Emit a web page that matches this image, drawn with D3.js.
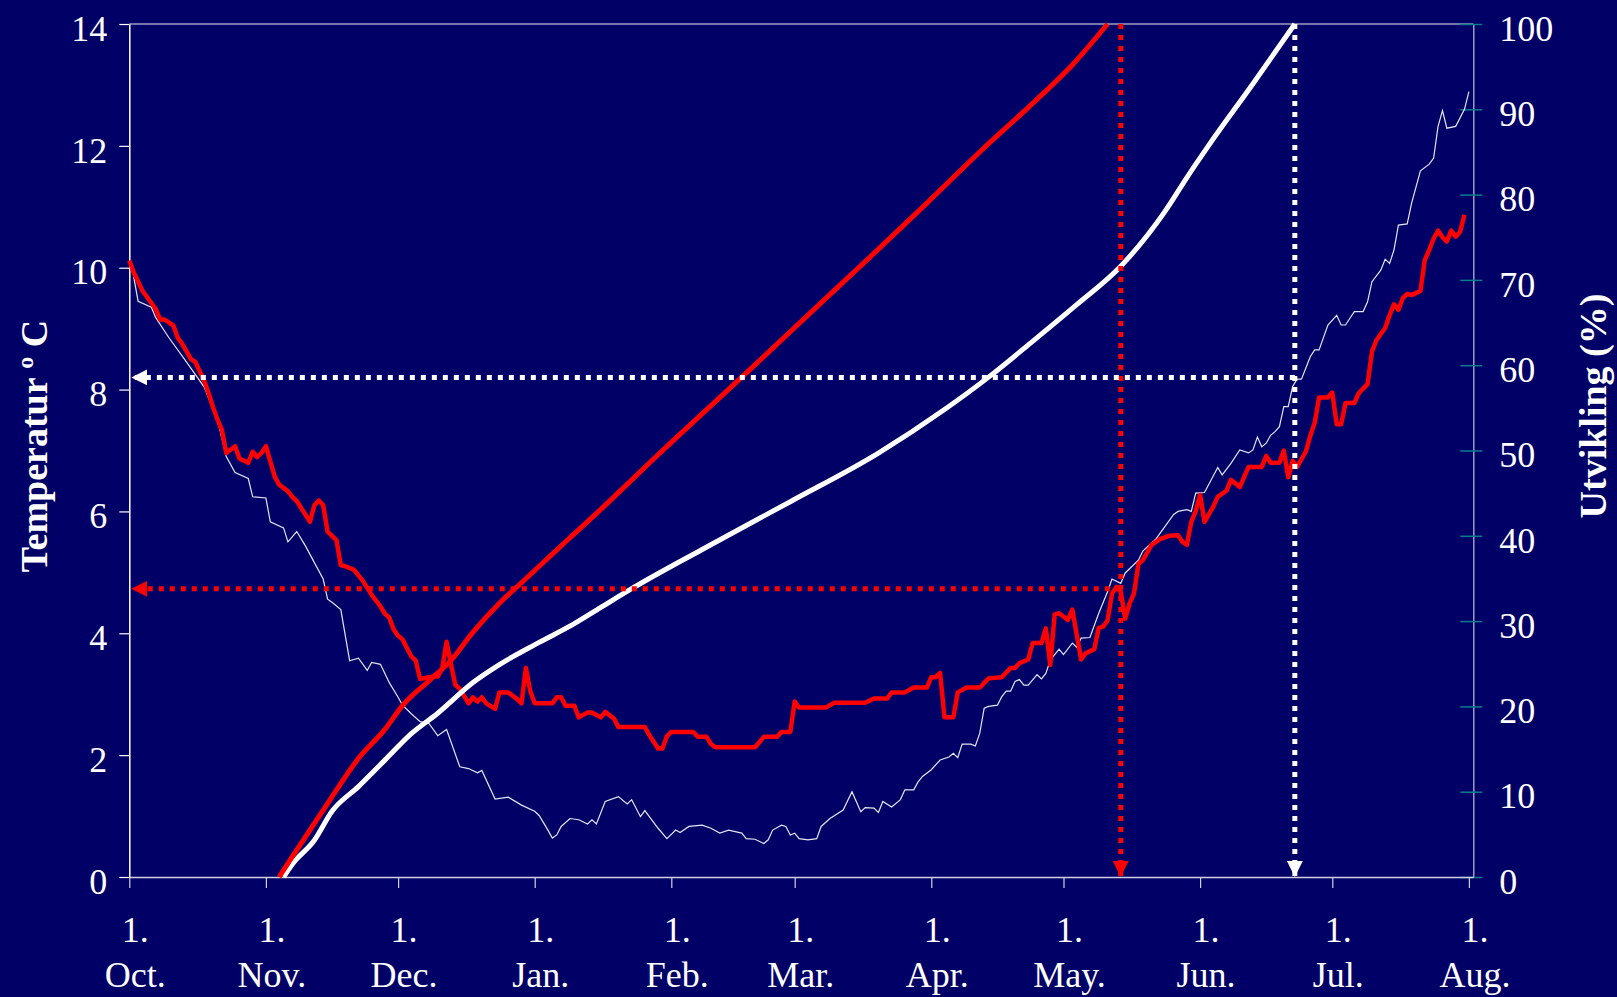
<!DOCTYPE html>
<html>
<head>
<meta charset="utf-8">
<script src="https://cdn.jsdelivr.net/npm/d3@7"></script>
<style>
  html, body { margin: 0; padding: 0; background: #000066; }
  svg { display: block; }
  svg text { font-family: "Liberation Serif", "Times New Roman", serif; }
</style>
</head>
<body>
<svg id="chart" width="1617" height="997"></svg>
<script>
// all series keyed by days counted from 1 October
const thinTemp = [[1,9.85],[2,9.45],[5,9.35],[6,9.18],[9,8.85],[13,8.45],[17,8.04],[20,7.51],[22,6.90],[24,6.64],[27,6.54],[28,6.24],[31,6.22],[32,5.83],[35,5.73],[36,5.50],[38,5.67],[40,5.43],[42,5.16],[44,4.89],[45,4.56],[46,4.51],[48,4.39],[50,3.55],[52,3.59],[54,3.39],[55,3.52],[57,3.49],[59,3.19],[61,2.95],[62,2.82],[64,2.68],[66,2.55],[68,2.52],[70,2.32],[72,2.42],[75,1.81],[77,1.78],[79,1.71],[80,1.75],[83,1.28],[86,1.31],[89,1.18],[92,1.08],[93,1.01],[95,0.77],[96,0.64],[97,0.69],[98,0.83],[100,0.96],[102,0.94],[104,0.87],[105,0.94],[106,0.87],[108,1.24],[111,1.32],[113,1.20],[114,1.27],[116,0.99],[117,1.09],[120,0.80],[122,0.63],[124,0.77],[125,0.73],[127,0.83],[130,0.85],[132,0.80],[134,0.72],[136,0.77],[139,0.72],[140,0.63],[142,0.62],[144,0.55],[145,0.61],[146,0.77],[148,0.85],[149,0.83],[150,0.69],[151,0.72],[152,0.63],[154,0.61],[156,0.63],[157,0.83],[159,0.96],[162,1.10],[164,1.40],[166,1.07],[167,1.14],[169,1.13],[170,1.06],[171,1.24],[173,1.15],[175,1.27],[176,1.43],[178,1.43],[179,1.56],[180,1.65],[182,1.76],[184,1.92],[186,1.97],[187,2.03],[188,1.96],[189,2.18],[191,2.18],[192,2.15],[193,2.36],[194,2.77],[195,2.80],[197,2.82],[198,2.96],[199,3.05],[200,3.05],[201,3.21],[202,3.24],[203,3.15],[204,3.15],[206,3.32],[207,3.25],[208,3.34],[209,3.56],[211,3.74],[212,3.65],[214,3.84],[215,3.77],[216,3.92],[218,3.93],[220,4.33],[222,4.68],[223,4.89],[225,4.82],[226,4.99],[229,5.20],[230,5.35],[233,5.55],[235,5.75],[237,5.95],[238,6.00],[240,6.03],[241,6.00],[242,6.30],[244,6.31],[247,6.72],[248,6.60],[250,6.79],[252,7.01],[254,6.96],[255,7.01],[256,7.22],[257,7.06],[258,7.12],[259,7.25],[260,7.31],[261,7.39],[262,7.72],[263,7.72],[264,8.05],[265,8.17],[266,8.17],[268,8.54],[269,8.65],[270,8.65],[272,9.06],[274,9.22],[275,9.06],[276,9.06],[277,9.17],[278,9.28],[280,9.28],[281,9.44],[282,9.77],[284,9.96],[285,10.14],[286,10.07],[287,10.29],[288,10.70],[290,10.72],[291,11.06],[293,11.59],[295,11.70],[296,11.80],[297,12.32],[298,12.58],[299,12.29],[301,12.32],[303,12.60],[304,12.89]];

const redTemp = [[0,10.12],[1,9.92],[3,9.62],[5,9.42],[6,9.32],[7,9.15],[8,9.15],[10,9.05],[11,8.85],[12,8.75],[14,8.50],[15,8.45],[17,8.14],[18,7.94],[19,7.71],[20,7.51],[21,7.34],[22,6.96],[24,7.07],[25,6.87],[27,6.80],[28,6.98],[29,6.89],[30,6.96],[31,7.07],[33,6.57],[34,6.44],[36,6.33],[37,6.24],[38,6.17],[41,5.83],[42,6.10],[43,6.18],[44,6.10],[45,5.67],[46,5.60],[47,5.53],[48,5.12],[49,5.10],[51,5.04],[52,4.95],[53,4.86],[55,4.63],[57,4.44],[58,4.32],[59,4.26],[60,4.06],[61,3.96],[62,3.90],[64,3.62],[65,3.55],[66,3.25],[69,3.29],[70,3.29],[71,3.42],[72,3.86],[73,3.49],[74,3.15],[75,3.09],[77,2.85],[78,2.95],[79,2.88],[80,2.95],[81,2.85],[83,2.76],[84,3.03],[86,3.03],[88,2.92],[89,2.85],[90,3.43],[91,3.05],[92,2.85],[96,2.85],[97,2.95],[98,2.95],[99,2.81],[101,2.81],[102,2.62],[104,2.70],[105,2.70],[107,2.62],[108,2.71],[110,2.60],[111,2.46],[117,2.46],[118,2.33],[120,2.11],[121,2.11],[122,2.31],[123,2.38],[128,2.38],[129,2.30],[131,2.30],[132,2.18],[133,2.13],[142,2.13],[144,2.30],[147,2.30],[148,2.38],[150,2.38],[151,2.88],[152,2.78],[158,2.78],[160,2.86],[167,2.86],[169,2.93],[172,2.93],[173,3.03],[176,3.03],[178,3.11],[181,3.11],[182,3.28],[183,3.28],[184,3.35],[185,2.62],[187,2.62],[188,3.03],[190,3.11],[193,3.11],[195,3.26],[198,3.28],[200,3.43],[201,3.43],[202,3.51],[204,3.57],[205,3.84],[207,3.84],[208,4.08],[209,3.48],[210,4.31],[211,4.33],[213,4.22],[214,4.39],[216,3.57],[217,3.67],[219,3.74],[220,4.09],[221,4.11],[222,4.21],[223,4.65],[224,4.76],[225,4.68],[226,4.24],[227,4.49],[228,4.65],[229,5.14],[230,5.20],[232,5.45],[234,5.55],[236,5.60],[238,5.61],[239,5.50],[240,5.45],[241,5.83],[242,6.00],[243,6.27],[244,5.83],[246,6.08],[247,6.24],[249,6.34],[250,6.52],[252,6.40],[254,6.73],[257,6.73],[258,6.91],[259,6.80],[261,6.80],[262,7.00],[263,6.56],[264,6.83],[265,6.73],[267,6.98],[268,7.24],[269,7.45],[270,7.87],[272,7.87],[273,7.95],[274,7.43],[275,7.43],[276,7.78],[278,7.78],[279,7.94],[281,8.09],[282,8.62],[283,8.81],[285,9.01],[286,9.22],[287,9.40],[288,9.31],[289,9.50],[290,9.57],[291,9.55],[293,9.62],[294,10.13],[295,10.29],[296,10.48],[297,10.61],[298,10.50],[299,10.43],[300,10.61],[301,10.51],[302,10.59],[303,10.87]];

// development (%), right axis
const redDev = [[34,0],[37,2.4],[41,5.5],[46,9.4],[52,13.9],[58,17.3],[62,20.1],[68,23.0],[73,25.4],[78,28.7],[84,32.1],[89,34.5],[94,36.9],[99,39.3],[107,43.1],[120,49.5],[139,58.6],[158,67.8],[170,73.6],[181,79.0],[193,85.0],[205,90.7],[214,95.2],[222,100]];
const whiteDev = [[35,0],[37,1.5],[42,4.3],[46,7.7],[52,10.6],[58,13.7],[64,16.8],[70,19.2],[78,22.8],[84,24.9],[93,27.5],[101,29.7],[107,31.6],[114,33.8],[130,38.4],[150,44.0],[170,49.7],[185,54.8],[195,58.6],[205,62.8],[215,67.1],[225,71.6],[235,78.0],[240,82.0],[245,85.8],[255,93.0],[264.5,100]];

const markDays = [225, 264.5];
const markTemps = [4.73, 8.2];

const tempTicks = [0, 2, 4, 6, 8, 10, 12, 14];
const devTicks = [0, 10, 20, 30, 40, 50, 60, 70, 80, 90, 100];
const monthLabels = ["Oct.", "Nov.", "Dec.", "Jan.", "Feb.", "Mar.", "Apr.", "May.", "Jun.", "Jul.", "Aug."];

const plotL = 129.3, plotR = 1473.3, plotT = 24, plotB = 877;

const start = new Date(2002, 9, 1);
const dayDate = d => new Date(+start + d * 864e5);

const x = d3.scaleTime().domain([start, dayDate(305)]).range([plotL, plotR]);
const yT = d3.scaleLinear().domain([0, 14]).range([plotB, plotT]);
const yP = d3.scaleLinear().domain([0, 100]).range([plotB, plotT]);

const svg = d3.select("#chart");
svg.append("rect").attr("width", 1617).attr("height", 997).attr("fill", "#000066");

// plot frame (top)
svg.append("line").attr("x1", plotL).attr("x2", plotR).attr("y1", plotT).attr("y2", plotT)
  .attr("stroke", "#9c9cc4").attr("stroke-width", 1.5);

// left axis
const gL = svg.append("g").attr("transform", `translate(${plotL},0)`)
  .call(d3.axisLeft(yT).tickValues(tempTicks).tickSize(10).tickSizeOuter(0).tickPadding(12));
gL.select(".domain").attr("stroke", "#ffffff").attr("stroke-width", 1.5);
gL.selectAll(".tick line").attr("stroke", "#ffffff").attr("stroke-width", 1.2);
gL.selectAll(".tick text").attr("fill", "#fff").attr("font-size", 36).attr("dy", "0.45em");

// right axis
const gR = svg.append("g").attr("transform", `translate(${plotR},0)`)
  .call(d3.axisRight(yP).tickValues(devTicks).tickSize(9).tickSizeOuter(0).tickPadding(17));
gR.select(".domain").attr("stroke", "#9c9cc4").attr("stroke-width", 1.5);
gR.selectAll(".tick line").attr("x1", -13).attr("stroke", "#0a7d8c").attr("stroke-width", 1.5);
gR.selectAll(".tick text").attr("fill", "#fff").attr("font-size", 36).attr("dy", "0.45em");

// bottom axis, month starts
const monthDates = d3.timeMonth.range(start, dayDate(305));
const gB = svg.append("g").attr("transform", `translate(0,${plotB})`)
  .call(d3.axisBottom(x).tickValues(monthDates).tickSize(11).tickSizeOuter(0).tickFormat(""));
gB.select(".domain").attr("stroke", "#d0d0e0").attr("stroke-width", 1.5);
gB.selectAll(".tick line").attr("stroke", "#d0d0e0").attr("stroke-width", 1.2);
const lab = gB.selectAll(".mlab").data(monthDates).join("text")
  .attr("class", "mlab")
  .attr("transform", d => `translate(${x(d) + 6},0)`)
  .attr("text-anchor", "middle").attr("fill", "#fff").attr("font-size", 36);
lab.append("tspan").attr("x", 0).attr("y", 65).text("1.");
lab.append("tspan").attr("x", 0).attr("y", 110).text((d, i) => monthLabels[i]);

// lines
const tLine = d3.line().x(d => x(dayDate(d[0]))).y(d => yT(d[1]));
const pLine = d3.line().x(d => x(dayDate(d[0]))).y(d => yP(d[1])).curve(d3.curveMonotoneX);

svg.append("path").datum(thinTemp).attr("d", tLine)
  .attr("fill", "none").attr("stroke", "#e4e4f0").attr("stroke-width", 1.2);
svg.append("path").datum(redTemp).attr("d", tLine)
  .attr("fill", "none").attr("stroke", "#ff0000").attr("stroke-width", 4.5).attr("stroke-linejoin", "round");
svg.append("path").datum(whiteDev).attr("d", pLine)
  .attr("fill", "none").attr("stroke", "#ffffff").attr("stroke-width", 5);
svg.append("path").datum(redDev).attr("d", pLine)
  .attr("fill", "none").attr("stroke", "#ff0000").attr("stroke-width", 5);

// dotted arrows
const markColors = ["#ff0000", "#ffffff"];
const defs = svg.append("defs");
markColors.forEach((c, i) => {
  defs.append("marker").attr("id", "arr" + i)
    .attr("viewBox", "0 0 16 16").attr("refX", 16).attr("refY", 8)
    .attr("markerWidth", 16).attr("markerHeight", 16)
    .attr("markerUnits", "userSpaceOnUse").attr("orient", "auto")
    .append("path").attr("d", "M0,0L16,8L0,16Z").attr("fill", c);
});

markDays.forEach((d, i) => {
  const mx = x(dayDate(d));
  svg.append("path")
    .attr("d", d3.line()([[mx, yP(100)], [mx, yP(0)]]))
    .attr("stroke", markColors[i]).attr("stroke-width", 5).attr("stroke-dasharray", "5,6")
    .attr("fill", "none").attr("marker-end", `url(#arr${i})`);
  svg.append("path")
    .attr("d", d3.line()([[mx, yT(markTemps[i])], [x(dayDate(0)) + 2, yT(markTemps[i])]]))
    .attr("stroke", markColors[i]).attr("stroke-width", 5).attr("stroke-dasharray", "5,6")
    .attr("fill", "none").attr("marker-end", `url(#arr${i})`);
});

// axis titles
const tl = svg.append("text").attr("transform", "translate(47,446) rotate(-90)")
  .attr("text-anchor", "middle").attr("fill", "#fff")
  .attr("font-weight", "bold").attr("font-size", 38);
tl.append("tspan").text("Temperatur ");
tl.append("tspan").attr("font-size", 24).attr("dy", -14).text("o");
tl.append("tspan").attr("dy", 14).text(" C");

svg.append("text").attr("transform", "translate(1606,406) rotate(-90)")
  .attr("text-anchor", "middle").attr("fill", "#fff")
  .attr("font-weight", "bold").attr("font-size", 38).text("Utvikling (%)");
</script>
</body>
</html>
